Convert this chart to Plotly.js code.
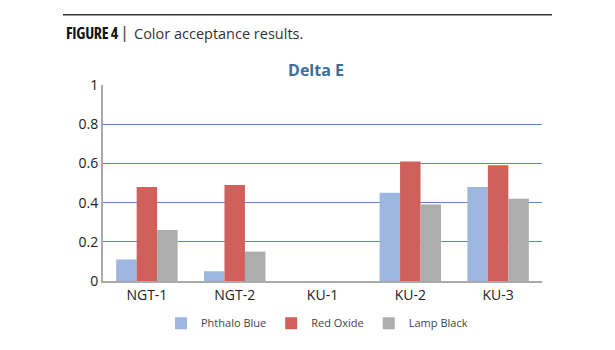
<!DOCTYPE html>
<html>
<head>
<meta charset="utf-8">
<script src="https://cdn.plot.ly/plotly-3.0.1.min.js"></script>
<style>html,body{margin:0;padding:0;background:#fff;}#chart{width:615px;height:350px;}</style>
</head>
<body>
<div id="chart"></div>
<script>
const categories = ["NGT-1", "NGT-2", "KU-1", "KU-2", "KU-3"];
const phthaloBlue = [0.11, 0.05, 0, 0.45, 0.48];
const redOxide = [0.48, 0.49, 0, 0.61, 0.59];
const lampBlack = [0.26, 0.15, 0, 0.39, 0.42];
const seriesNames = ["Phthalo Blue", "Red Oxide", "Lamp Black"];
const yTicks = [0, 0.2, 0.4, 0.6, 0.8, 1];
const yTickText = ["0", "0.2", "0.4", "0.6", "0.8", "1"];

const colors = ["#9db7e1", "#cf605b", "#adadad"];
const data = [phthaloBlue, redOxide, lampBlack].map((v, i) => ({
  type: "bar", x: categories, y: v, name: seriesNames[i],
  marker: {color: colors[i], line: {width: 0}}
}));

const L = 103, W = 439, B = 285, H = 200;
const px = x => (x - L) / W;
const py = y => (B - y) / H;

const layout = {
  width: 615, height: 350,
  margin: {l: 103, r: 73, t: 85, b: 65},
  paper_bgcolor: "#fff", plot_bgcolor: "#fff",
  font: {family: "Open Sans, sans-serif", color: "#333"},
  barmode: "group", bargap: 0.30, bargroupgap: 0,
  title: {text: "<b>Delta E</b>", x: 316/615, xanchor: "center", y: 1 - 70/350, yanchor: "middle",
          font: {size: 16, color: "#3b6e99", family: "Open Sans, sans-serif"}},
  xaxis: {showline: true, linecolor: "#aaaaaa", linewidth: 2, showgrid: false, zeroline: false,
          ticks: "", tickfont: {size: 14, color: "#222"}},
  yaxis: {range: [0, 1], tickvals: yTicks, ticktext: yTickText, showline: true, linecolor: "#aaaaaa", linewidth: 2,
          gridcolor: "#5b8ac3", gridwidth: 1, zeroline: false, ticks: "", ticklen: 0,
          tickfont: {size: 14, color: "#222"}},
  showlegend: true,
  legend: {orientation: "h", x: px(317), xanchor: "center", y: py(328), yanchor: "middle",
           font: {size: 11, color: "#444"}, itemwidth: 30, tracegroupgap: 0},
  shapes: [{type: "line", xref: "paper", yref: "paper", x0: px(63), x1: px(552), y0: py(13.3), y1: py(13.3),
            line: {color: "#333", width: 1.5}}],
  annotations: [
    {xref: "paper", yref: "paper", x: px(64), y: py(32), xanchor: "left", yanchor: "middle", showarrow: false,
     text: "<span style=\"font-stretch:condensed;letter-spacing:-0.3px\"><b>FIGURE 4</b></span>",
     font: {size: 16, color: "#111", family: "Open Sans"}},
    {xref: "paper", yref: "paper", x: px(124), y: py(32), xanchor: "center", yanchor: "middle", showarrow: false,
     text: "|", font: {size: 15, color: "#444", family: "DejaVu Sans"}},
    {xref: "paper", yref: "paper", x: px(132), y: py(32), xanchor: "left", yanchor: "middle", showarrow: false,
     text: "Color acceptance results.", font: {size: 14.5, color: "#333", family: "Open Sans, sans-serif"}}
  ]
};
Plotly.newPlot("chart", data, layout, {displayModeBar: false, staticPlot: true});
</script>
</body>
</html>
